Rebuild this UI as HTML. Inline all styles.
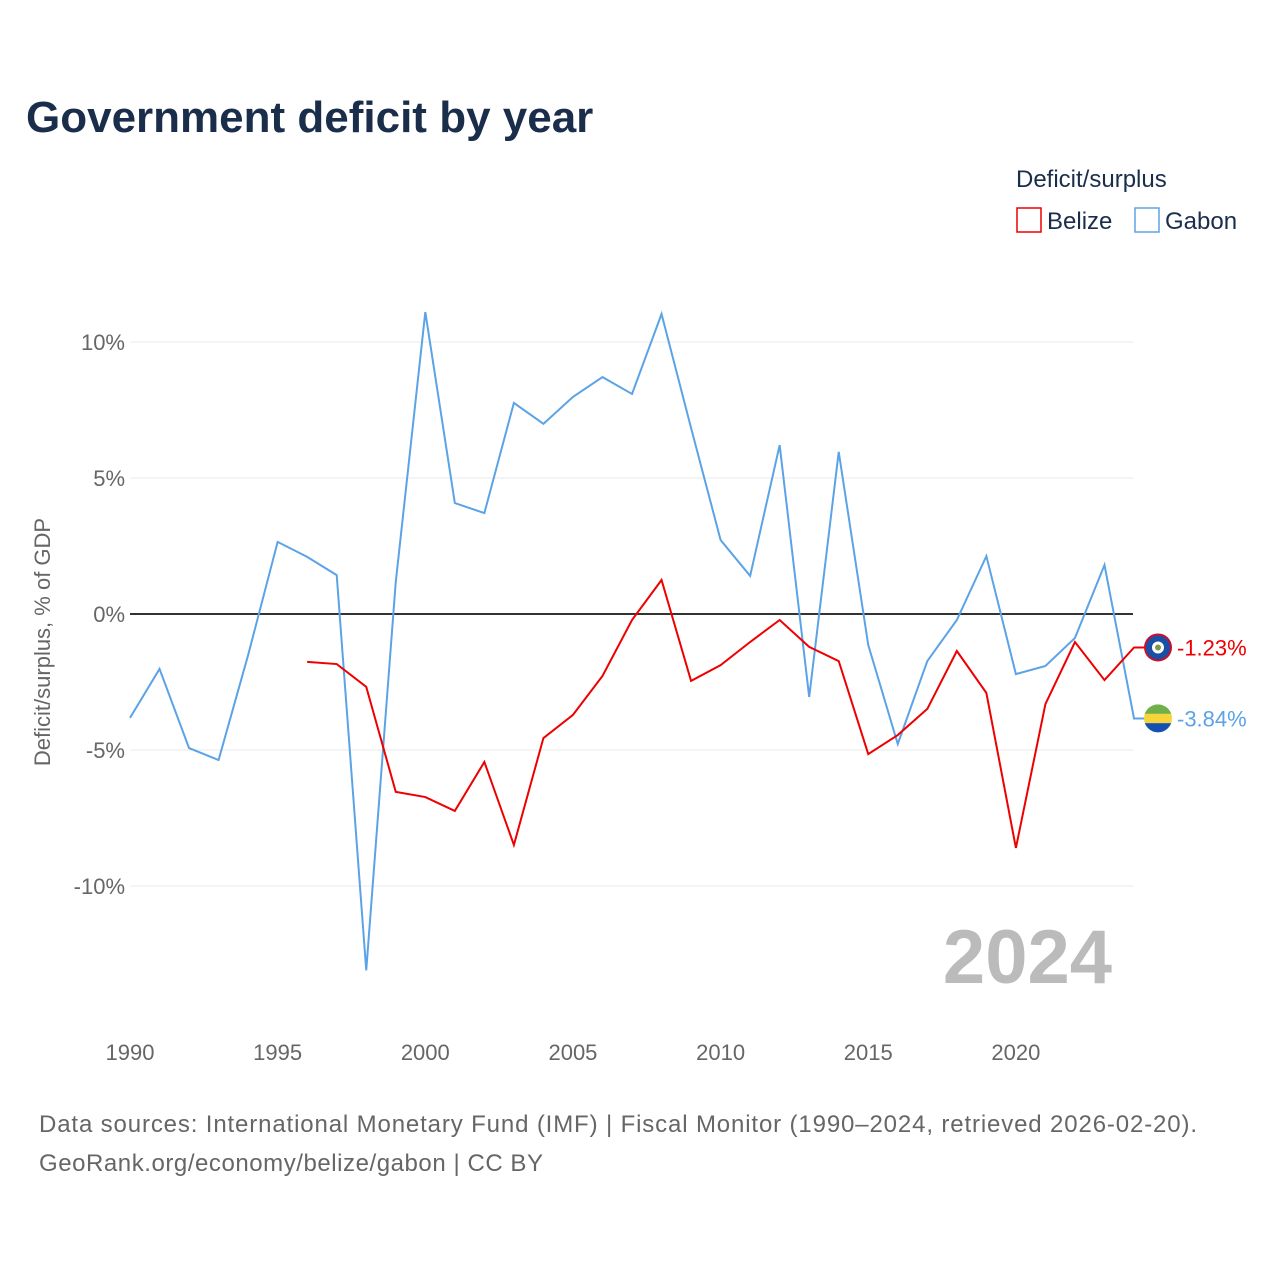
<!DOCTYPE html>
<html><head><meta charset="utf-8"><style>
body{margin:0;background:#fff;font-family:"Liberation Sans",sans-serif}
</style></head><body>
<svg width="1280" height="1280" xmlns="http://www.w3.org/2000/svg" font-family="Liberation Sans, sans-serif">
<defs><clipPath id="gc"><circle cx="1158" cy="718.4" r="14"/></clipPath></defs>
<text x="26" y="132" font-size="44" font-weight="bold" fill="#1a2e4c">Government deficit by year</text>
<text x="1016" y="187" font-size="24" fill="#1a2e4c">Deficit/surplus</text>
<g><rect x="1017" y="208" width="24" height="24" fill="none" stroke="#ee0000" stroke-width="1.5"/><text x="1047" y="229" font-size="24" fill="#1a2e4c">Belize</text></g>
<g><rect x="1135" y="208" width="24" height="24" fill="none" stroke="#5ba3e6" stroke-width="1.5"/><text x="1165" y="229" font-size="24" fill="#1a2e4c">Gabon</text></g>
<text transform="translate(50,642) rotate(-90)" text-anchor="middle" font-size="22" fill="#666">Deficit/surplus, % of GDP</text>
<g id="grid"></g><g id="xt"></g>
<text x="1112" y="983" text-anchor="end" font-size="76" font-weight="bold" fill="#bbb">2024</text>
<g id="lines"></g>
<text x="39" y="1132" font-size="24" fill="#666" textLength="1158">Data sources: International Monetary Fund (IMF) | Fiscal Monitor (1990–2024, retrieved 2026-02-20).</text>
<text x="39" y="1171" font-size="24" fill="#666" textLength="504">GeoRank.org/economy/belize/gabon | CC BY</text>
</svg>
<script>
const years=[];for(let y=1990;y<=2024;y++)years.push(y);
const gabon=[-3.82,-2.02,-4.93,-5.37,-1.51,2.65,2.10,1.43,-13.1,1.18,11.1,4.08,3.71,7.76,6.99,7.98,8.71,8.09,11.03,6.84,2.72,1.40,6.21,-3.05,5.96,-1.14,-4.78,-1.73,-0.22,2.13,-2.21,-1.91,-0.88,1.80,-3.84];
const belize=[null,null,null,null,null,null,-1.76,-1.84,-2.68,-6.54,-6.73,-7.24,-5.44,-8.49,-4.56,-3.71,-2.28,-0.22,1.25,-2.46,-1.88,-1.03,-0.22,-1.21,-1.73,-5.15,-4.45,-3.49,-1.36,-2.90,-8.60,-3.31,-1.03,-2.43,-1.23];
const yTicks=[10,5,0,-5,-10];
const xTicks=[1990,1995,2000,2005,2010,2015,2020];
const X=v=>130+(v-1990)*29.53, Y=v=>614-v*27.2;
const NS="http://www.w3.org/2000/svg";
function mk(t,a,p){const e=document.createElementNS(NS,t);for(const k in a)e.setAttribute(k,a[k]);p.appendChild(e);return e;}
const grid=document.getElementById('grid');
yTicks.forEach(t=>{
 const l=mk('line',{x1:130,x2:1133,y1:Y(t),y2:Y(t),stroke:t===0?'#333':'#e8e8e8','stroke-width':t===0?2:1},grid);
 
 
 const tx=mk('text',{x:125,y:Y(t)+8,'text-anchor':'end','font-size':22,fill:'#666'},grid);tx.textContent=t+'%';
 
 
});
const xt=document.getElementById('xt');
xTicks.forEach(t=>{const tx=mk('text',{x:X(t),y:1060,'text-anchor':'middle','font-size':22,fill:'#666'},xt);tx.textContent=t;
 
 });
const lines=document.getElementById('lines');
function draw(vals,col,name,lab){
 let d='';vals.forEach((v,i)=>{if(v===null)return;d+=(d?'L':'M')+X(years[i])+','+Y(v);});
 const last=vals[vals.length-1];d+='L'+(X(2024)+18)+','+Y(last);
 const p=mk('path',{d:d,fill:'none',stroke:col,'stroke-width':2},lines);
 
 
 const cx=1158, cy=Y(last);
 const g=mk('g',{},lines);
 
 
 if(name==='gabon'){
  const cg=mk('g',{'clip-path':'url(#gc)'},g);
  mk('rect',{x:cx-14,y:cy-14,width:28,height:10,fill:'#6fb04a'},cg);
  mk('rect',{x:cx-14,y:cy-4.7,width:28,height:9.4,fill:'#f7d53a'},cg);
  mk('rect',{x:cx-14,y:cy+4.7,width:28,height:10,fill:'#1550b0'},cg);
 } else {
  mk('circle',{cx:cx,cy:cy,r:14,fill:'#c8102e'},g);
  mk('circle',{cx:cx,cy:cy,r:12,fill:'#1a4fa8'},g);
  mk('circle',{cx:cx,cy:cy,r:6,fill:'#fff'},g);
  mk('circle',{cx:cx,cy:cy,r:3,fill:'#7a9a4a'},g);
 }
 const tx=mk('text',{x:1177,y:Y(last)+8,'font-size':22,fill:col},lines);tx.textContent=lab;
 
 
}
draw(gabon,'#5ba3e6','gabon',gabon[gabon.length-1].toFixed(2)+'%');
draw(belize,'#ee0000','belize',belize[belize.length-1].toFixed(2)+'%');
</script>
</body></html>
